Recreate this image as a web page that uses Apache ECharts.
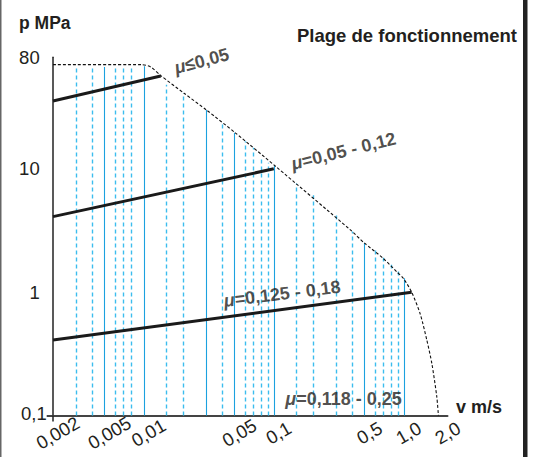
<!DOCTYPE html>
<html>
<head>
<meta charset="utf-8">
<script src="https://cdn.jsdelivr.net/npm/echarts@6/dist/echarts.min.js"></script>
<style>
html,body{margin:0;padding:0;background:#fff;}
#c{width:533px;height:457px;}
</style>
</head>
<body>
<div id="c"></div>
<script>
// ---- axis ticks ----
const xTickValues = [0.002, 0.005, 0.01, 0.05, 0.1, 0.5, 1, 2];
const xTickLabels = ['0,002', '0,005', '0,01', '0,05', '0,1', '0,5', '1,0', '2,0'];
const yTickValues = [0.1, 1, 10, 80];
const yTickLabels = ['0,1', '1', '10', '80'];

// ---- blue vertical lines (velocity, top pressure) ----
const solidX   = [0.005, 0.01, 0.03, 0.05, 0.1, 0.5, 1.0];
const solidTop = [67, 68, 30, 19.6, 10.6, 2.5, 1.3];
const dashedX   = [0.003, 0.004, 0.006, 0.007, 0.008, 0.015, 0.02, 0.04, 0.06, 0.07, 0.08, 0.09, 0.15, 0.2, 0.3, 0.4, 0.6, 0.7, 0.8, 0.9];
const dashedTop = [66, 66, 66, 66, 66, 48, 41, 23, 16.7, 14.8, 12.6, 11.2, 7.6, 6.1, 4.2, 3.1, 2.2, 1.9, 1.67, 1.47];

// ---- operating range boundary ----
const boundaryX = [0.002, 0.0095, 0.0113, 0.0135, 0.0204, 0.0303, 0.0508, 0.103, 0.388, 0.494, 0.695, 0.885, 0.995, 1.15, 1.336, 1.504, 1.644, 1.795, 1.847];
const boundaryY = [70, 70, 67, 57, 41, 30, 19.5, 10.5, 3.2, 2.52, 1.88, 1.46, 1.29, 1.0, 0.67, 0.41, 0.265, 0.142, 0.1];

// ---- friction coefficient lines ----
const lowMuX  = [0.002, 0.0135], lowMuY  = [35.5, 56.5];
const midMuX  = [0.002, 0.1],    midMuY  = [4.1, 10];
const highMuX = [0.002, 1.15],   highMuY = [0.41, 1.0];

// ---- annotations ----
const annoText = ['≤0,05', '=0,05 - 0,12', '=0,125 - 0,18', '=0,118 - 0,25'];
const annoX = [0.0279, 0.344, 0.116, 0.344];
const annoY = [74.8, 13.9, 0.97, 0.135];
const annoAngle = [15, 14, 7, 0];

const FONT = "'Liberation Sans', Arial, Helvetica, sans-serif";
const INK = '#231f20';

function pick(vals, labels, v) {
  for (let i = 0; i < vals.length; i++) {
    if (Math.abs(Math.log10(v / vals[i])) < 0.005) return labels[i];
  }
  return '';
}
function pairs(xs, ys) { return xs.map((x, i) => [x, ys[i]]); }

const chart = echarts.init(document.getElementById('c'), null, {renderer: 'svg'});
chart.setOption({
  backgroundColor: '#fff',
  animation: false,
  title: [
    {text: 'p MPa', left: 19, top: 14, padding: 0,
     textStyle: {fontFamily: FONT, fontSize: 17.5, fontWeight: 'bold', color: INK}},
    {text: 'Plage de fonctionnement', right: 16, top: 26, padding: 0,
     textStyle: {fontFamily: FONT, fontSize: 18.5, fontWeight: 'bold', color: INK}},
    {text: 'v m/s', left: 456, top: 398, padding: 0,
     textStyle: {fontFamily: FONT, fontSize: 18, fontWeight: 'bold', color: INK}}
  ],
  graphic: [
    {type: 'rect', shape: {x: 0, y: 0, width: 1.5, height: 457}, style: {fill: '#666'}},
    {type: 'rect', shape: {x: 523, y: 0, width: 4.5, height: 457}, style: {fill: '#222'}}
  ],
  grid: {left: 52.7, top: 57.3, right: 85.5, bottom: 41.4, outerBoundsMode: 'none'},
  xAxis: {
    type: 'log', logBase: 10, min: 0.00199, max: 2.17,
    splitLine: {show: false},
    axisLine: {show: true, lineStyle: {color: '#444', width: 2}},
    axisTick: {show: true, customValues: [0.002], length: 6, lineStyle: {color: '#222', width: 1.5}},
    axisLabel: {
      customValues: xTickValues,
      formatter: v => pick(xTickValues, xTickLabels, v),
      rotate: 30, align: 'center', verticalAlign: 'middle', margin: 20,
      padding: [0, 0, 0, 11],
      fontFamily: FONT, fontSize: 18.5, color: INK
    }
  },
  yAxis: {
    type: 'log', logBase: 10, min: 0.0999, max: 80.2,
    splitLine: {show: false},
    axisLine: {show: true, lineStyle: {color: '#222', width: 1.5}},
    axisTick: {show: true, customValues: [0.1], length: 6, lineStyle: {color: '#444', width: 2}},
    axisLabel: {
      customValues: yTickValues,
      formatter: v => {
        const t = pick(yTickValues, yTickLabels, v);
        return t === '0,1' ? '{z|' + t + '}' : '{n|' + t + '}';
      },
      margin: 6,
      rich: {
        n: {fontFamily: FONT, fontSize: 18.5, color: INK, padding: [0, 7, 0, 0]},
        z: {fontFamily: FONT, fontSize: 18.5, color: INK, padding: [0, 0, 5, 0]}
      }
    }
  },
  series: [
    {
      type: 'lines', coordinateSystem: 'cartesian2d', silent: true, z: 1,
      lineStyle: {color: '#1ba1df', width: 1.1, type: 'solid', opacity: 1},
      data: solidX.map((x, i) => ({coords: [[x, 0.1], [x, solidTop[i]]]}))
    },
    {
      type: 'lines', coordinateSystem: 'cartesian2d', silent: true, z: 1,
      lineStyle: {color: '#3cbdee', width: 1.4, type: [4, 3], opacity: 1},
      data: dashedX.map((x, i) => ({coords: [[x, 0.1], [x, dashedTop[i]]]}))
    },
    {
      type: 'line', symbol: 'none', smooth: 0.25, z: 3, silent: true,
      lineStyle: {color: '#111', width: 1.1, type: [3, 2]},
      data: pairs(boundaryX, boundaryY)
    },
    {type: 'line', symbol: 'none', z: 4, silent: true,
     lineStyle: {color: '#1a1a1a', width: 3}, data: pairs(lowMuX, lowMuY)},
    {type: 'line', symbol: 'none', z: 4, silent: true,
     lineStyle: {color: '#1a1a1a', width: 3}, data: pairs(midMuX, midMuY)},
    {type: 'line', symbol: 'none', z: 4, silent: true,
     lineStyle: {color: '#1a1a1a', width: 3}, data: pairs(highMuX, highMuY)},
    {
      type: 'scatter', symbolSize: 0, z: 5, silent: true,
      data: annoX.map((x, i) => ({
        value: [x, annoY[i]],
        label: {
          show: true, position: 'inside', rotate: annoAngle[i],
          formatter: '{m|μ}{t|' + annoText[i] + '}',
          rich: {
            m: {fontFamily: FONT, fontSize: 18, fontWeight: 'bold', fontStyle: 'italic', color: INK},
            t: {fontFamily: FONT, fontSize: 18, fontWeight: 'bold', color: INK}
          }
        }
      }))
    }
  ]
});
</script>
</body>
</html>
